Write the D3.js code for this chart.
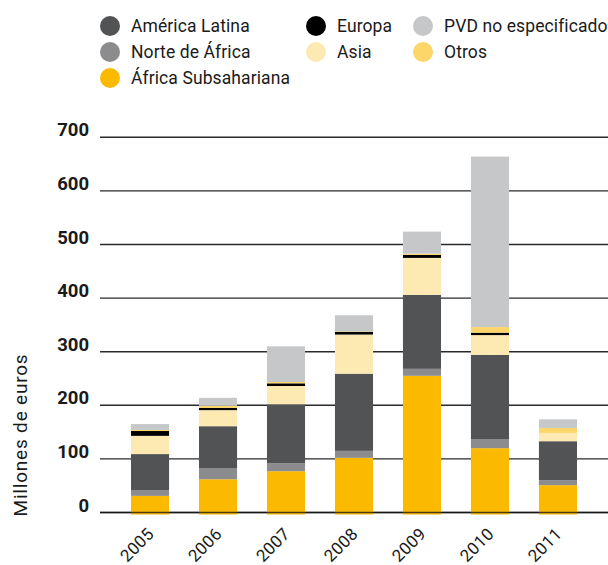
<!DOCTYPE html>
<html>
<head>
<meta charset="utf-8">
<script src="https://cdn.jsdelivr.net/npm/d3@7"></script>
<style>
  body { margin: 0; background: #fff; }
  text { font-family: Roboto, "DejaVu Sans", sans-serif; fill: #1a1a1a; }
</style>
</head>
<body>
<svg id="chart" width="608" height="565"></svg>
<script>
// years on the x axis
var years = ["2005", "2006", "2007", "2008", "2009", "2010", "2011"];

// series, bottom to top of each stack (millones de euros)
var africaSub   = [31, 62, 77, 102, 255, 120, 51];
var norteAfrica = [11, 21, 15, 13, 13, 17, 9];
var americaLat  = [67, 78, 110, 144, 138, 157, 73];
var asia        = [34, 30, 34, 73, 69, 37, 15.5];
var europa      = [9, 4, 5, 5, 5.6, 4.5, 0];
var otros       = [2, 4, 2.4, 1, 2.4, 10.5, 9.3];
var pvd         = [11, 15, 66.6, 30, 41, 318, 16];

var yTicks = [0, 100, 200, 300, 400, 500, 600, 700];

var series = [
    {name: "África Subsahariana", values: africaSub,   color: "#fbba00"},
    {name: "Norte de África",     values: norteAfrica, color: "#8c8c8e"},
    {name: "América Latina",      values: americaLat,  color: "#525355"},
    {name: "Asia",                values: asia,        color: "#fde9b2"},
    {name: "Europa",              values: europa,      color: "#000000"},
    {name: "Otros",               values: otros,       color: "#fcd669"},
    {name: "PVD no especificado", values: pvd,         color: "#c6c7c9"}
];

// legend layout (column by column, like the original)
var legendOrder = [
    ["América Latina", 0, 0], ["Norte de África", 0, 1], ["África Subsahariana", 0, 2],
    ["Europa", 1, 0], ["Asia", 1, 1],
    ["PVD no especificado", 2, 0], ["Otros", 2, 1]
];

var svg = d3.select("#chart");

var x = d3.scaleBand()
    .domain(years)
    .range([100, 608])
    .paddingInner(0.44)
    .paddingOuter(0.456);

var y = d3.scaleLinear()
    .domain([0, 700])
    .range([512.5, 137.3]);

var rows = years.map(function(yr, i) {
    var r = {year: yr};
    series.forEach(function(s) { r[s.name] = s.values[i]; });
    return r;
});

var stack = d3.stack().keys(series.map(function(s) { return s.name; }));
var stacked = stack(rows);

// gridlines
svg.append("g").selectAll("line")
    .data(yTicks)
    .enter().append("line")
    .attr("x1", 100)
    .attr("x2", 608)
    .attr("y1", function(d) { return y(d); })
    .attr("y2", function(d) { return y(d); })
    .attr("stroke", "#2a2a2a")
    .attr("stroke-width", 1.4);

// y tick labels
svg.append("g").selectAll("text")
    .data(yTicks)
    .enter().append("text")
    .attr("x", 89)
    .attr("y", function(d) { return y(d) - 1; })
    .attr("text-anchor", "end")
    .style("font-size", "18.5px")
    .style("font-weight", "bold")
    .text(function(d) { return d; });

// bars
var colorOf = {};
series.forEach(function(s) { colorOf[s.name] = s.color; });

svg.append("g").selectAll("g")
    .data(stacked)
    .enter().append("g")
    .attr("fill", function(d) { return colorOf[d.key]; })
    .selectAll("rect")
    .data(function(d) { return d; })
    .enter().append("rect")
    .attr("x", function(d) { return x(d.data.year); })
    .attr("y", function(d) { return y(d[1]); })
    .attr("width", x.bandwidth())
    .attr("height", function(d) {
        var h = y(d[0]) - y(d[1]);
        return d[0] === 0 ? h + 2 : h;
    });

// zero line on top of the bars
svg.append("line")
    .attr("x1", 100)
    .attr("x2", 608)
    .attr("y1", y(0))
    .attr("y2", y(0))
    .attr("stroke", "#111")
    .attr("stroke-opacity", 0.75)
    .attr("stroke-width", 1.6);

// x labels, rotated
svg.append("g").selectAll("text")
    .data(years)
    .enter().append("text")
    .attr("text-anchor", "end")
    .attr("transform", function(d) {
        return "translate(" + (x(d) + x.bandwidth() / 2 + 5) + ",535) rotate(-45)";
    })
    .style("font-size", "17px")
    .style("letter-spacing", "0.3px")
    .text(function(d) { return d; });

// y axis title
svg.append("text")
    .attr("transform", "translate(27,435) rotate(-90)")
    .attr("text-anchor", "middle")
    .style("font-size", "19px")
    .style("letter-spacing", "0.8px")
    .text("Millones de euros");

// legend
var colX = [110, 316, 423];
var rowY = [26, 52, 78];
var leg = svg.append("g").selectAll("g")
    .data(legendOrder)
    .enter().append("g")
    .attr("transform", function(d) { return "translate(" + colX[d[1]] + "," + rowY[d[2]] + ")"; });

leg.append("circle")
    .attr("r", 10)
    .attr("fill", function(d) { return colorOf[d[0]]; });

leg.append("text")
    .attr("x", 21)
    .attr("y", 6)
    .style("font-size", "17.5px")
    .style("letter-spacing", "0.1px")
    .text(function(d) { return d[0]; });
</script>
</body>
</html>
